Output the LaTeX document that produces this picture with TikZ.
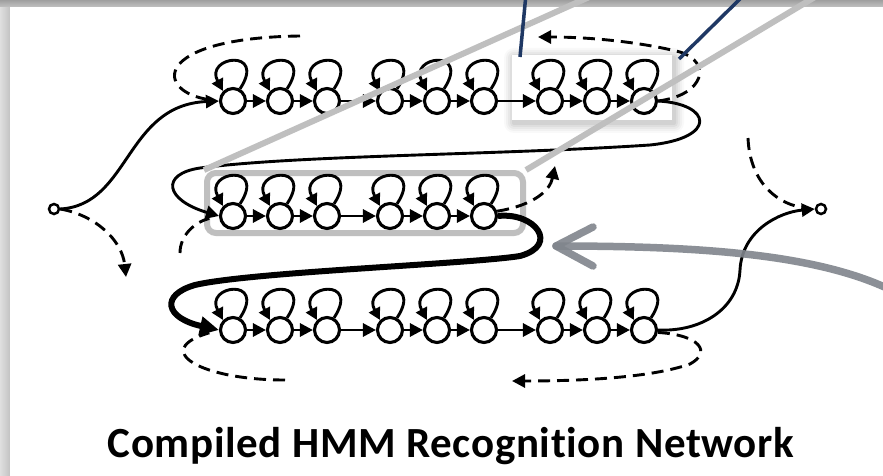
\documentclass[tikz,border=0pt]{standalone}
\usepackage{fontspec}
\newfontfamily\titlefont{Carlito}[Ligatures=NoCommon]
\usetikzlibrary{arrows.meta}
\definecolor{callgray}{RGB}{191,191,191}
\definecolor{navyblue}{RGB}{31,56,100}
\definecolor{arrgray}{RGB}{128,133,140}
\begin{document}
\begin{tikzpicture}[x=1pt,y=-1pt,
  st/.style={circle, draw, line width=3.1pt, minimum size=25pt, inner sep=0pt, fill=white},
  endpt/.style={circle, draw, line width=2.5pt, minimum size=10pt, inner sep=0pt, fill=white},
  conn/.style={line width=2.9pt, -{Triangle[length=13pt,width=13pt]}},
  loopc/.style={line width=2.9pt, -{Triangle[length=12pt,width=12pt]}},
  dsh/.style={line width=2.9pt, dash pattern=on 12pt off 7pt},
  dshtip/.style={dsh, -{Triangle[length=13pt,width=13pt]}},
  thickconn/.style={line width=6pt, -{Triangle[length=19pt,width=18pt]}},
  graybox/.style={draw=callgray, line width=6pt, rounded corners=9pt},
  grayline/.style={draw=callgray, line width=6pt},
  navyline/.style={draw=navyblue, line width=3.5pt},
  bigarrow/.style={draw=arrgray, line width=7.5pt, line cap=round, line join=round, opacity=0.9}
]
\useasboundingbox (0,0) rectangle (883,476);
% slide background and panel shadow
\fill[gray!45] (0,0) rectangle (883,476);
\shade[top color=gray!75, bottom color=gray!45] (0,0) rectangle (883,8);
\shade[left color=gray!25, right color=gray!50] (0,8) rectangle (11,476);
\fill[white] (10,7) rectangle (890,480);
% white highlight box with soft shadow
\foreach \d/\o in {10/0.025, 8/0.03, 6/0.035, 4/0.04, 2/0.05}
  \fill[black, opacity=\o, rounded corners=\d pt] (512-\d+2,55-\d+3) rectangle (672+\d+2,120+\d+3);
\node[fill=white, inner sep=0pt, minimum width=160pt, minimum height=65pt] (wb) at (592,87.5) {};
% gray rounded box round row 2
\node[graybox, inner sep=0pt, minimum width=316pt, minimum height=60pt] (gb) at (365,203) {};
% states
\foreach \x [count=\i] in {233,280,327,390,437,484,550,597,644}
  \node[st] (r1c\i) at (\x,101) {};
\foreach \x [count=\i] in {233,280,327,390,437,484}
  \node[st] (r2c\i) at (\x,216) {};
\foreach \x [count=\i] in {233,280,327,390,437,484,550,597,644}
  \node[st] (r3c\i) at (\x,330) {};
\node[endpt] (s) at (54,209) {};
\node[endpt] (e) at (821,209) {};
% self loops
\foreach \n in {r1c1,r1c2,r1c3,r1c4,r1c5,r1c6,r1c7,r1c8,r1c9,
                r2c1,r2c2,r2c3,r2c4,r2c5,r2c6,
                r3c1,r3c2,r3c3,r3c4,r3c5,r3c6,r3c7,r3c8,r3c9}
  \draw[loopc] (\n.60) .. controls +(27,-41) and +(-19,-35) .. (\n.135);
% transitions in rows
\foreach \a/\b in {1/2,2/3,3/4,4/5,5/6,6/7,7/8,8/9}
  \draw[conn] (r1c\a) -- (r1c\b);
\foreach \a/\b in {1/2,2/3,3/4,4/5,5/6}
  \draw[conn] (r2c\a) -- (r2c\b);
\foreach \a/\b in {1/2,2/3,3/4,4/5,5/6,6/7,7/8,8/9}
  \draw[conn] (r3c\a) -- (r3c\b);
% free ends
\coordinate (tl) at (300,36);
\coordinate (tr) at (538,37);
\coordinate (sd) at (126,277);
\coordinate (ml) at (180,253);
\coordinate (mr) at (555,166);
\coordinate (er) at (748,138);
\coordinate (bl) at (285,380);
\coordinate (br) at (512,381);
% start
\draw[conn] (s.east) .. controls (130,205) and (125,105) .. (r1c1.west);
\draw[dshtip] (s.east) .. controls (95,215) and (122,240) .. (sd);
\draw[dsh, shorten >=10pt] (tl) .. controls (150,38) and (155,92) .. (r1c1.west);
% row 1 to row 2
\draw[conn] (r1c9.east) .. controls (712,104) and (718,138) .. (650,145)
   .. controls (500,155) and (300,155) .. (200,168)
   .. controls (160,174) and (165,200) .. (r2c1.west);
\draw[dshtip] (r1c9.east) .. controls (705,95) and (712,62) .. (680,52)
   .. controls (640,42) and (590,37) .. (tr);
\draw[dsh, shorten >=10pt] (ml) .. controls (180,235) and (195,222) .. (r2c1.west);
% row 2 to row 3
\draw[thickconn] (r2c6.east) .. controls (535,212) and (560,245) .. (520,256)
   .. controls (470,264) and (250,272) .. (195,285)
   .. controls (160,295) and (165,318) .. (r3c1.west);
\draw[dshtip] (r2c6.20) .. controls (535,205) and (550,190) .. (mr);
\draw[dsh, shorten >=10pt] (bl) .. controls (200,380) and (150,350) .. (r3c1.west);
% row 3 to end
\draw[conn] (r3c9.east) .. controls (700,332) and (738,310) .. (740,270)
   .. controls (742,230) and (780,212) .. (e.west);
\draw[dsh, shorten >=10pt] (er) .. controls (750,185) and (780,205) .. (e.west);
\draw[dshtip] (r3c9.-10) .. controls (700,335) and (712,352) .. (690,364)
   .. controls (650,378) and (580,381) .. (br);
% callout lines
\coordinate (g1) at (596,-6);
\coordinate (g2) at (820,-6);
\draw[grayline] (gb.north west) -- (g1);
\draw[grayline] (gb.north east) -- (g2);
\coordinate (n1a) at (520,57);
\coordinate (n1b) at (526,-6);
\coordinate (n2a) at (679,59);
\coordinate (n2b) at (745,-6);
\draw[navyline] (n1a) -- (n1b);
\draw[navyline] (n2a) -- (n2b);
% big gray pointer
\coordinate (pt) at (556,246);
\coordinate (pe) at (895,292);
\draw[bigarrow] (pe) .. controls (820,254) and (700,246) .. (pt);
\draw[bigarrow] (593,227) -- (pt) -- (593,266);
% title
\node[font=\titlefont\bfseries\fontsize{43pt}{50pt}\selectfont\addfontfeature{LetterSpace=1.5}, anchor=base] (title) at (451,457) {Compiled HMM Recognition Network};
\end{tikzpicture}
\end{document}
